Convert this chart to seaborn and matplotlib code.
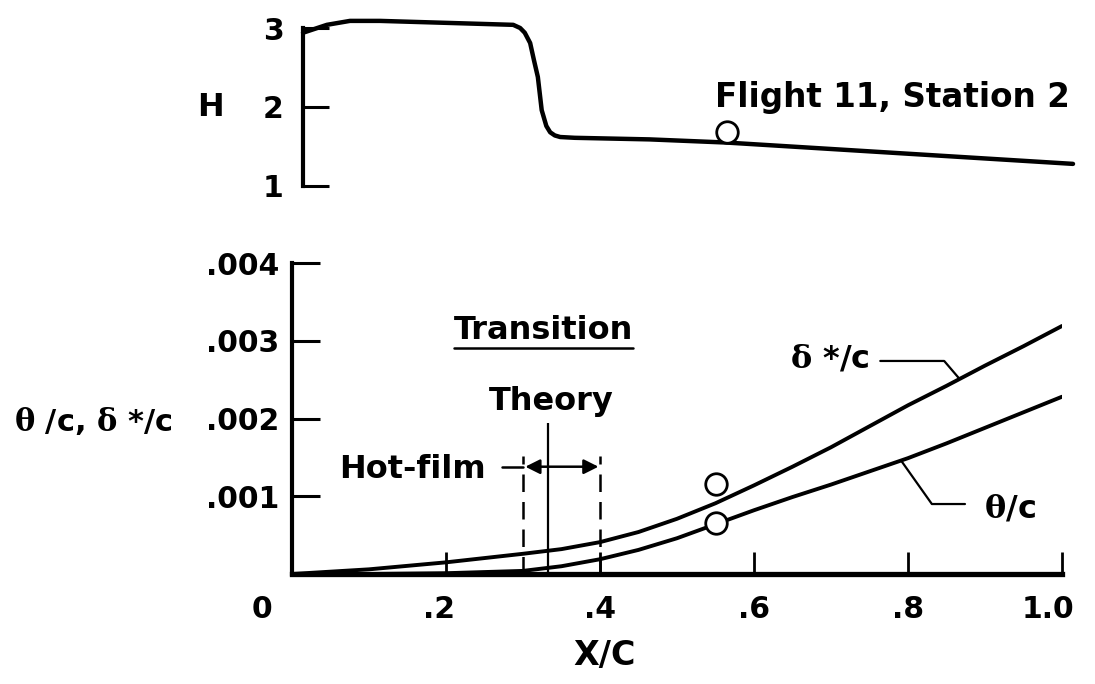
import numpy as np
import pandas as pd
import matplotlib
matplotlib.use("Agg")
import matplotlib.pyplot as plt
import seaborn as sns
from matplotlib.lines import Line2D
from matplotlib.transforms import ScaledTranslation, IdentityTransform

# ---------------- data ----------------
# shape factor H vs x/c (top panel)
h_x = [0.0, 0.031, 0.061, 0.10, 0.204, 0.273, 0.282, 0.288, 0.295, 0.30, 0.305,
       0.31, 0.316, 0.321, 0.327, 0.334, 0.353, 0.45, 0.55, 0.70, 0.85, 1.0]
h_val = [2.94, 3.04, 3.09, 3.09, 3.06, 3.04, 3.00, 2.94, 2.81, 2.59, 2.38,
         1.96, 1.76, 1.68, 1.64, 1.62, 1.61, 1.59, 1.55, 1.46, 1.37, 1.28]
h_meas_x = [0.55]
h_meas = [1.68]

# boundary-layer thicknesses (bottom panel)
bl_x = [0.0, 0.1, 0.2, 0.3, 0.35, 0.4, 0.45, 0.5, 0.55, 0.6, 0.65, 0.7, 0.75,
        0.8, 0.85, 0.9, 0.95, 1.0]
delta_star = [0.0, 0.00006, 0.00015, 0.00026, 0.00032, 0.00041, 0.00054, 0.00071,
              0.00091, 0.00114, 0.00138, 0.00163, 0.0019, 0.00217, 0.00242,
              0.00268, 0.00293, 0.00319]
theta = [0.0, 0.0, 0.00001, 0.00004, 0.0001, 0.00019, 0.00031, 0.00046,
         0.00064, 0.00082, 0.00099, 0.00115, 0.00132, 0.00149, 0.00168,
         0.00188, 0.00208, 0.00228]
meas_x = [0.55, 0.55]
meas_y = [0.00116, 0.00066]

# transition locations
hotfilm_start = 0.30
hotfilm_end = 0.40
theory_x = 0.333

x_ticks = [0, 0.2, 0.4, 0.6, 0.8, 1.0]
x_ticklabels = ["0", ".2", ".4", ".6", ".8", "1.0"]
y_ticks = [0.001, 0.002, 0.003, 0.004]
y_ticklabels = [".001", ".002", ".003", ".004"]
h_ticks = [1, 2, 3]
h_ticklabels = ["1", "2", "3"]

# ---------------- style ----------------
sns.set_theme(style="white")
plt.rcParams["font.family"] = ["DejaVu Sans"]
plt.rcParams["font.weight"] = "bold"
plt.rcParams["mathtext.fontset"] = "dejavuserif"
plt.rcParams["text.color"] = "black"

W, Hh = 1095, 684
fig = plt.figure(figsize=(W / 100, Hh / 100), dpi=100)
fig.patch.set_facecolor("white")

def fx(px):
    return px / W

def fy(py):
    return 1 - py / Hh

# bottom axes: x 0 at px 292, 1.0 at px 1062 ; y 0 at px 573, .004 at px 263
ax = fig.add_axes([fx(292), fy(574), fx(1062) - fx(292), fy(263) - fy(574)])
# top axes: x 0 at px 303 ; y 1 at px 186, 3 at px 28
axh = fig.add_axes([fx(303), fy(186), 770 / W, fy(28) - fy(186)])

for a in (ax, axh):
    a.set_facecolor("white")
    for s in ("top", "right"):
        a.spines[s].set_visible(False)
    a.grid(False)

# ---------------- top panel ----------------
dfh = pd.DataFrame({"x": h_x, "H": h_val})
sns.lineplot(data=dfh, x="x", y="H", ax=axh, color="black", lw=3.2,
             sort=False, estimator=None)
for l in axh.lines:
    l.set_clip_on(False)
    l.set_solid_joinstyle("round")
sns.scatterplot(x=h_meas_x, y=h_meas, ax=axh, marker="o", s=240,
                facecolor="white", edgecolor="black", linewidth=2.0, zorder=5)
axh.set_xlim(0, 1.0)
axh.set_ylim(1, 3)
axh.spines["bottom"].set_visible(False)
axh.spines["left"].set_linewidth(3.0)
axh.spines["left"].set_color("black")
axh.set_xticks([])
axh.set_yticks(h_ticks)
axh.set_yticklabels(h_ticklabels)
axh.tick_params(axis="y", direction="in", length=19, width=2.2, pad=14,
                labelsize=21.5, colors="black", left=True)
axh.set_xlabel("")
axh.set_ylabel("")
axh.text(0.535, 2.12, "Flight 11, Station 2", fontsize=23.5, fontweight="bold",
         ha="left", va="center", color="black")

# ---------------- bottom panel ----------------
dfb = pd.DataFrame({"x": bl_x + bl_x,
                    "v": delta_star + theta,
                    "q": ["delta"] * len(bl_x) + ["theta"] * len(bl_x)})
sns.lineplot(data=dfb, x="x", y="v", units="q", estimator=None, ax=ax,
             color="black", lw=2.8, sort=False, legend=False)
for l in ax.lines:
    l.set_solid_joinstyle("round")
sns.scatterplot(x=meas_x, y=meas_y, ax=ax, marker="o", s=240,
                facecolor="white", edgecolor="black", linewidth=2.0, zorder=5)
ax.set_xlim(0, 1.0)
ax.set_ylim(0, 0.004)
ax.spines["left"].set_linewidth(3.0)
ax.spines["bottom"].set_linewidth(3.8)
ax.spines["left"].set_color("black")
ax.spines["bottom"].set_color("black")
ax.set_xticks(x_ticks)
ax.set_xticklabels(x_ticklabels)
ax.set_yticks(y_ticks)
ax.set_yticklabels(y_ticklabels)
ax.tick_params(axis="y", direction="in", length=20, width=2.2, pad=9,
               labelsize=21.5, colors="black", left=True)
ax.tick_params(axis="x", direction="in", length=16, width=2.0, pad=15,
               labelsize=21.5, colors="black", bottom=True)
ax.set_xlabel("")
ax.set_ylabel("")
# the "0" label sits to the lower left of the origin; "1.0" slightly left of its tick
xl = ax.get_xticklabels()
xl[0].set_transform(xl[0].get_transform() + ScaledTranslation(-30 / 100, 0, fig.dpi_scale_trans))
xl[-1].set_transform(xl[-1].get_transform() + ScaledTranslation(-14 / 100, 0, fig.dpi_scale_trans))
xl[1].set_transform(xl[1].get_transform() + ScaledTranslation(-7 / 100, 0, fig.dpi_scale_trans))
ax.xaxis.get_major_ticks()[0].tick1line.set_visible(False)

# transition markers
ax.vlines([hotfilm_start, hotfilm_end], 0, 0.00152, colors="black", lw=1.8,
          linestyles=(0, (7, 4)))
ax.vlines([theory_x], 0, 0.00194, colors="black", lw=1.6)
ax.annotate("", xy=(hotfilm_start + 0.003, 0.00138), xytext=(hotfilm_end - 0.002, 0.00138),
            arrowprops=dict(arrowstyle="<|-|>", color="black", lw=1.8,
                            mutation_scale=22, shrinkA=0, shrinkB=0))
ax.plot([0.273, hotfilm_start], [0.00138, 0.00138], color="black", lw=1.8)
ax.text(0.252, 0.00123, "Hot-film", fontsize=23, fontweight="bold",
        ha="right", va="baseline", color="black")
ax.text(0.337, 0.00211, "Theory", fontsize=23, fontweight="bold",
        ha="center", va="baseline", color="black")
t_tr = ax.text(0.327, 0.00302, "Transition", fontsize=23, fontweight="bold",
               ha="center", va="baseline", color="black")

# leader lines for the curve labels
d_touch_x = 0.867
d_touch_y = float(np.interp(d_touch_x, bl_x, delta_star))
ax.plot([0.764, 0.847, d_touch_x], [0.00274, 0.00274, d_touch_y], color="black", lw=1.6)
ax.text(0.75, 0.00277, r"$\mathrm{\delta}$ */c", fontsize=23, fontweight="bold",
        ha="right", va="center", color="black")
t_touch_x = 0.791
t_touch_y = float(np.interp(t_touch_x, bl_x, theta))
ax.plot([0.874, 0.831, t_touch_x], [0.0009, 0.0009, t_touch_y], color="black", lw=1.6)
ax.text(0.899, 0.00083, r"$\mathrm{\theta}$/c", fontsize=23, fontweight="bold",
        ha="left", va="center", color="black")

# axis labels
fig.text(fx(210), fy(107), "H", fontsize=23, fontweight="bold", ha="center", va="center",
         color="black")
fig.text(fx(93), fy(421), r"$\mathrm{\theta}$ /c, $\mathrm{\delta}$ */c", fontsize=22,
         fontweight="bold", ha="center", va="center", color="black")
fig.text(fx(605), fy(655), "X/C", fontsize=24, fontweight="bold", ha="center", va="center",
         color="black")

# underline "Transition"
fig.canvas.draw()
bb = t_tr.get_window_extent()
fig.add_artist(Line2D([bb.x0, bb.x1], [bb.y0 - 2, bb.y0 - 2], transform=IdentityTransform(),
                      color="black", lw=1.8))

fig.savefig("out.png", dpi=100, facecolor="white")
